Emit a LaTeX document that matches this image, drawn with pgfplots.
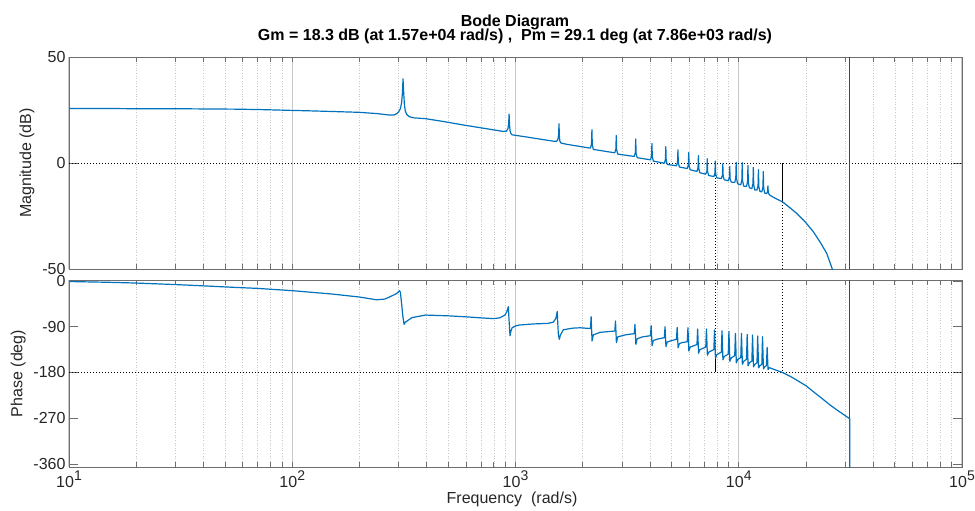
\documentclass[border=0pt]{standalone}
\usepackage{fontspec}
\setmainfont{Liberation Sans}
\usepackage{pgfplots}
\pgfplotsset{compat=1.18}

\definecolor{matblue}{RGB}{0,114,189}
\definecolor{axgray}{RGB}{110,110,110}
\definecolor{majgrid}{RGB}{200,200,200}
\definecolor{mingrid}{RGB}{200,200,200}
\definecolor{ticktext}{RGB}{38,38,38}
\definecolor{nyq}{RGB}{70,70,70}

\newcommand{\tpow}[1]{10\raisebox{7pt}{\fontsize{14}{14}\selectfont #1}}

\pgfplotsset{
  bodeax/.style={
    scale only axis, width=893pt,
    xmin=10, xmax=100000,
    xtick={10,100,1000,10000,100000},
    minor xtick={20,30,40,50,60,70,80,90,
      200,300,400,500,600,700,800,900,
      2000,3000,4000,5000,6000,7000,8000,9000,
      20000,30000,40000,50000,60000,70000,80000,90000},
    xmajorgrids, xminorgrids,
    major grid style={draw=majgrid, line width=1.2pt},
    minor grid style={draw=mingrid, line width=0.6pt, dash pattern=on 1pt off 1.6pt},
    axis line style={draw=axgray, line width=0.8pt},
    tick style={draw=axgray, line width=0.8pt},
    tick align=inside, tick pos=both,
    major tick length=6pt, minor tick length=5pt,
    xtick style={/pgfplots/major tick length=5pt,/pgfplots/minor tick length=5pt},
    ytick style={/pgfplots/major tick length=9pt},
    /pgf/number format/assume math mode=true,
    every tick label/.append style={font=\fontsize{16}{19}\selectfont, text=ticktext},
  },
  margdot/.style={black, line width=0.8pt, dash pattern=on 1pt off 2pt},
  bode/.style={matblue, line width=1.2pt, line join=round, mark=none},
}

\begin{document}
\begin{tikzpicture}
\useasboundingbox (0pt,0pt) rectangle (975pt,-511pt);

\node[anchor=base, font=\fontsize{16}{19}\selectfont\bfseries] at (515pt,-26.7pt) {Bode Diagram};
\node[anchor=base, font=\fontsize{16}{19}\selectfont\bfseries] at (515pt,-40.7pt)
  {Gm = 18.3 dB (at 1.57e+04 rad/s) ,~~Pm = 29.1 deg (at 7.86e+03 rad/s)};

%% magnitude
\begin{semilogxaxis}[bodeax,
  at={(69pt,-269pt)}, anchor=south west, height=212pt,
  ymin=-50, ymax=50,
  ytick={-50,0,50}, yticklabels={-50,0,50},
  xticklabels={},
  ylabel={Magnitude (dB)},
  every axis y label/.style={at={(axis description cs:-0.0470,0.5)}, rotate=90,
    anchor=center, font=\fontsize{16}{19}\selectfont, text=ticktext},
]
  \addplot[margdot] coordinates {(10,0)(100000,0)};
  \addplot[margdot] coordinates {(7860,0)(7860,-50)};
  \addplot[black, line width=0.8pt] coordinates {(15700,0)(15700,-18.3)};
  \addplot[margdot] coordinates {(15700,-18.3)(15700,-50)};
  \addplot[nyq, line width=1.3pt] coordinates {(31416,-50)(31416,50)};
  \addplot[bode] coordinates {
    (10,25.7)(15,25.7)(20,25.6)(30,25.6)(40,25.5)(55,25.4)(72,25.2)(100,24.8)
    (120,24.6)(150,24.3)(200,23.9)(240,23.3)(273,22.6)(285,22.6)(294,23.3)
    (300,24.2)(305,25.6)(309,28.5)(311.5,33)(313.5,39.7)(315.5,33.5)(318,27.5)
    (321,24.5)(326,22.8)(335,21.8)(350,21.3)(396,20.9)(480,19.5)(593,17.8)
    (700,16.6)(800,15.6)(880,14.9)(910,15.0)(925,16.2)(932,18.5)(936,23.1)
    (940,18)(946,15)(955,13.8)(965,13.3)(1100,12.4)(1300,11.2)(1476,10.3)
    (1530,10.3)(1550,11.3)(1560,13.5)(1566,18.5)(1572,13)(1580,10.3)(1600,9.4)
    (1700,8.8)(1945,7.8)
    (2166.1,7.0)(2190.3,9.0)(2199.1,15.7)(2207.9,8.5)(2232.1,6.4)
    (2785.0,4.8)(2816.1,6.6)(2827.4,13.0)(2838.7,6.2)(2869.8,4.2)
    (3404.0,3.1)(3442.0,4.9)(3455.8,11.3)(3469.6,4.5)(3507.6,2.5)
    (4022.8,1.5)(4067.8,3.2)(4084.1,9.2)(4100.4,2.8)(4145.4,0.9)
    (4641.7,-0.1)(4693.6,1.6)(4712.4,7.7)(4731.2,1.2)(4783.1,-0.7)
    (5260.6,-1.3)(5319.3,0.4)(5340.7,6.2)(5362.1,0.0)(5420.8,-1.9)
    (5879.5,-2.6)(5945.1,-0.9)(5969.0,5.0)(5992.9,-1.3)(6058.5,-3.2)
    (6498.3,-4.0)(6570.9,-2.3)(6597.3,3.5)(6623.7,-2.7)(6696.3,-4.6)
    (7117.3,-5.3)(7196.8,-3.7)(7225.7,2.0)(7254.6,-4.1)(7334.1,-5.9)
    (7736.2,-6.4)(7822.6,-4.8)(7854.0,0.9)(7885.4,-5.2)(7971.8,-7.0)
    (8355.1,-7.3)(8448.4,-5.8)(8482.3,-0.4)(8516.2,-6.2)(8609.5,-7.9)
    (8973.9,-8.4)(9074.2,-6.9)(9110.6,-1.6)(9147.0,-7.3)(9247.3,-9.0)
    (9592.9,-9.2)(9700.0,-7.0)(9739.0,0.3)(9778.0,-7.5)(9885.1,-9.8)
    (10211.8,-10.3)(10325.8,-7.9)(10367.3,0.1)(10408.8,-8.5)(10522.8,-10.9)
    (10830.7,-11.1)(10951.6,-8.8)(10995.6,-1.2)(11039.6,-9.4)(11160.5,-11.7)
    (11449.5,-12.1)(11577.4,-9.8)(11623.9,-2.1)(11670.4,-10.3)(11798.3,-12.7)
    (12068.4,-12.8)(12203.2,-10.6)(12252.2,-3.2)(12301.2,-11.1)(12436.0,-13.4)
    (12687.3,-13.6)(12829.0,-11.4)(12880.5,-4.0)(12932.0,-11.9)(13073.7,-14.2)
    (13306.2,-14.4)(13454.8,-13.7)(13508.8,-10.8)(13562.8,-13.9)(13711.4,-15.0)
    (14200,-16.0)(15000,-17.3)(15700,-18.3)(17000,-21.2)(18150,-23.7)
    (20000,-28.2)(21580,-32.4)(23300,-37.8)(24770,-42.6)(26240,-50)(27500,-58)
  };
\end{semilogxaxis}

%% phase
\begin{semilogxaxis}[bodeax,
  at={(69pt,-467pt)}, anchor=south west, height=187pt,
  ymin=-366, ymax=2,
  ytick={-360,-270,-180,-90,0}, yticklabels={-360,-270,-180,-90,0},
  xticklabels={\tpow{1},\tpow{2},\tpow{3},\tpow{4},\tpow{5}},
  ylabel={Phase (deg)},
  xlabel={Frequency~~(rad/s)},
  every axis y label/.style={at={(axis description cs:-0.0568,0.5)}, rotate=90,
    anchor=center, font=\fontsize{16}{19}\selectfont, text=ticktext},
  every axis x label/.style={at={(axis description cs:0.4961,-0.1925)},
    anchor=base, font=\fontsize{16}{19}\selectfont, text=ticktext},
]
  \addplot[margdot] coordinates {(10,-180)(100000,-180)};
  \addplot[margdot] coordinates {(7860,2)(7860,-150.9)};
  \addplot[black, line width=0.8pt] coordinates {(7860,-150.9)(7860,-180)};
  \addplot[margdot] coordinates {(15700,2)(15700,-180)};
  \addplot[nyq, line width=1.3pt] coordinates {(31416,-366)(31416,2)};
  \addplot[bode] coordinates {
    (10,-1)(15,-2.5)(20,-4)(30,-7)(40,-9.5)(55,-12.5)(70,-14.5)(100,-19)
    (150,-25.5)(200,-31.5)(239,-37)(260,-35.5)(274,-31)(294,-24.5)(302,-19)
    (305,-22)(309,-45)(313,-70)(317,-85.3)(321,-81)(344,-72)(395,-67)
    (500,-68.5)(600,-70.5)(700,-72.5)(795,-74)(850,-72.5)(897,-67)(915,-60)
    (929,-50.5)(935,-75)(945,-107.6)(952,-100)(965,-92)(1000,-88.5)(1040,-86.6)
    (1200,-84.5)(1400,-83.3)(1476,-81)(1515,-74)(1538,-60)(1546,-82)(1556,-105)
    (1571,-114.7)(1590,-106)(1637,-96)(1800,-92.8)(1945,-92)
    (2166.1,-93.5)(2181.5,-70.2)(2202.4,-118)(2232.1,-106)(2391,-101)
    (2785.0,-98.4)(2804.8,-78.7)(2831.6,-121.3)(2869.8,-110)(3100,-106)
    (3404.0,-103.6)(3428.2,-85.3)(3461.0,-124.6)(3507.6,-113.5)(3700,-110)
    (4022.8,-107.6)(4051.4,-87.9)(4090.2,-127.2)(4145.4,-117)(4350,-114)
    (4641.7,-111.5)(4674.7,-89.9)(4719.5,-129.2)(4783.1,-120)(4980,-117.5)
    (5260.6,-114.8)(5298.0,-91.2)(5348.7,-131.2)(5420.8,-123)(5600,-121)
    (5879.5,-119.5)(5921.2,-91.8)(5978.0,-138)(6058.5,-130)
    (6498.3,-125)(6544.5,-94.4)(6607.2,-142)(6696.3,-135)
    (7117.3,-130)(7167.9,-94.4)(7236.5,-146)(7334.1,-140)
    (7736.2,-135)(7791.2,-96.4)(7865.8,-152)(7971.8,-145)
    (8355.1,-140)(8414.4,-97.7)(8495.0,-155)(8609.5,-148.5)
    (8973.9,-144)(9037.7,-99)(9124.3,-158)(9247.3,-151.5)
    (9592.9,-147)(9661.1,-103)(9753.6,-161)(9885.1,-154.5)
    (10211.8,-150.5)(10284.4,-103)(10382.9,-164)(10522.8,-158)
    (10830.7,-154)(10907.6,-105)(11012.1,-167)(11160.5,-161)
    (11449.5,-157.5)(11530.9,-106.3)(11641.3,-169)(11798.3,-164)
    (12068.4,-161)(12154.2,-108.2)(12270.6,-171)(12436.0,-166.6)
    (12687.3,-164)(12777.5,-109.5)(12899.8,-173)(13073.7,-168.6)
    (13306.2,-166.5)(13400.7,-130.5)(13529.1,-174)(13711.4,-170.5)
    (14500,-174.5)(15700,-180)(17000,-187.5)(18150,-194.8)(20000,-206)
    (21580,-217.7)(23500,-230.5)(25650,-244)(28000,-256)(30450,-267)
    (31416,-271)(31416,-370)
  };
\end{semilogxaxis}
\end{tikzpicture}
\end{document}
